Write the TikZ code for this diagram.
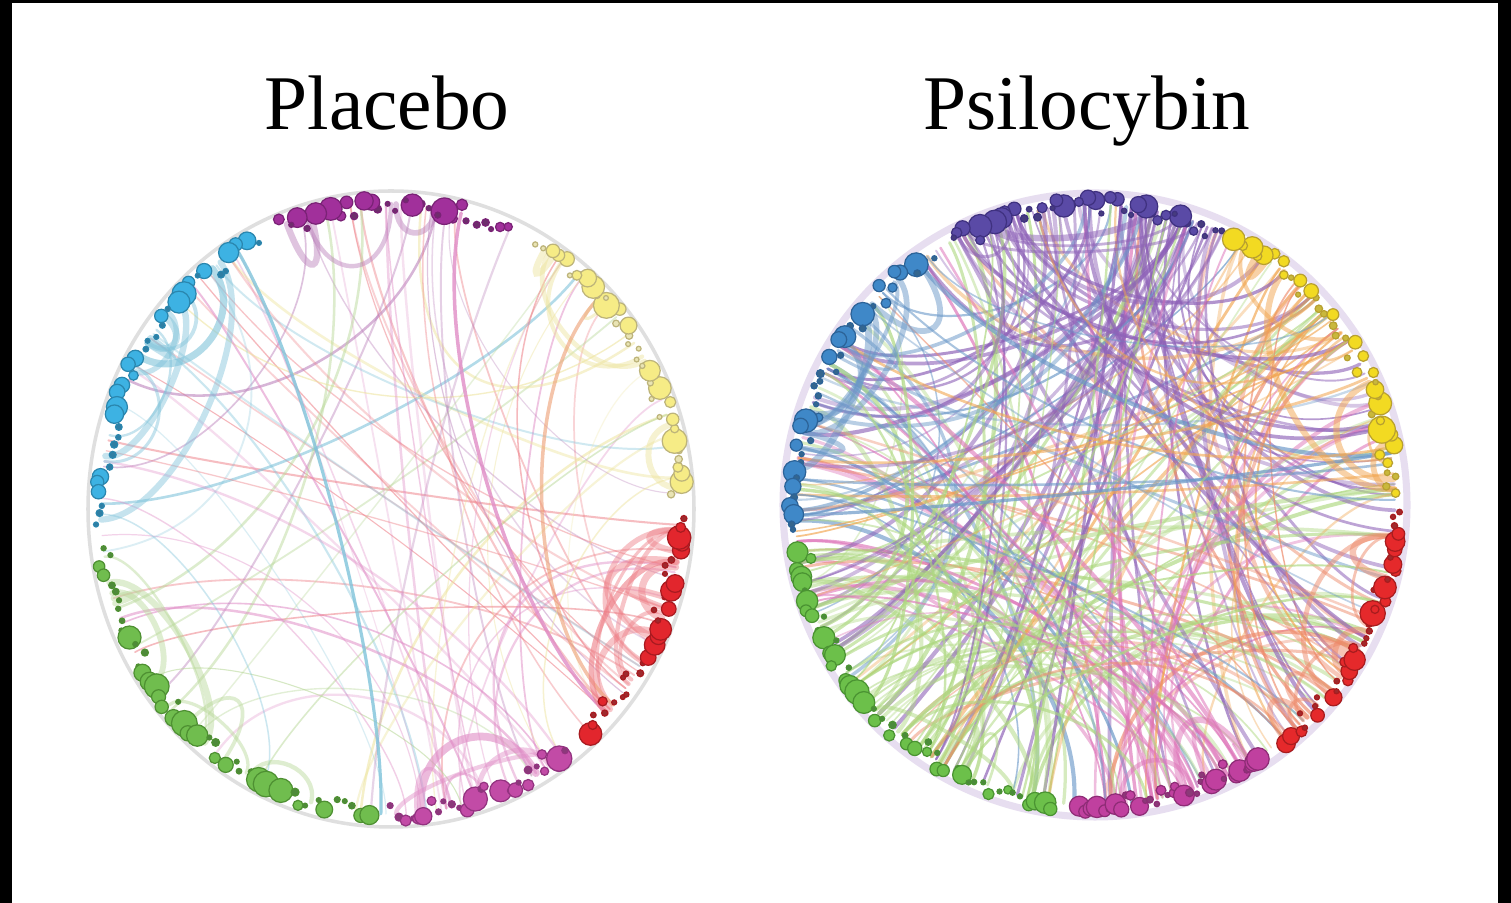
\documentclass[tikz,border=0pt]{standalone}
\usepackage{fontspec}
\setmainfont{Liberation Serif}
\usetikzlibrary{calc}
% placebo: node fill, small dot, outline, link colours
\definecolor{pla0}{HTML}{A1309B}\definecolor{pld0}{HTML}{6E2E6C}\definecolor{plo0}{HTML}{7A2276}\definecolor{plk0}{HTML}{B97DB9}
\definecolor{pla1}{HTML}{3DB2E3}\definecolor{pld1}{HTML}{2F7EA3}\definecolor{plo1}{HTML}{2A86AE}\definecolor{plk1}{HTML}{7FC3DA}
\definecolor{pla2}{HTML}{70BD4E}\definecolor{pld2}{HTML}{4F8A3A}\definecolor{plo2}{HTML}{4E9032}\definecolor{plk2}{HTML}{B8D898}
\definecolor{pla3}{HTML}{C24BA6}\definecolor{pld3}{HTML}{8A3A7A}\definecolor{plo3}{HTML}{933380}\definecolor{plk3}{HTML}{E08CC6}
\definecolor{pla4}{HTML}{E2262D}\definecolor{pld4}{HTML}{9E2A2E}\definecolor{plo4}{HTML}{A81A20}\definecolor{plk4}{HTML}{EE7E86}
\definecolor{pla5}{HTML}{F6EC86}\definecolor{pld5}{HTML}{E9E4B4}\definecolor{plo5}{HTML}{BDB47A}\definecolor{plk5}{HTML}{EDE39A}
% psilocybin
\definecolor{psa0}{HTML}{5A4AA6}\definecolor{psd0}{HTML}{463C7E}\definecolor{pso0}{HTML}{3F3180}\definecolor{psk0}{HTML}{8E62B8}
\definecolor{psa1}{HTML}{3F88C8}\definecolor{psd1}{HTML}{35668E}\definecolor{pso1}{HTML}{2C6398}\definecolor{psk1}{HTML}{6A98C8}
\definecolor{psa2}{HTML}{6CC04A}\definecolor{psd2}{HTML}{4C8A3C}\definecolor{pso2}{HTML}{4A9332}\definecolor{psk2}{HTML}{ADD87F}
\definecolor{psa3}{HTML}{C0409F}\definecolor{psd3}{HTML}{8B3A78}\definecolor{pso3}{HTML}{8E2C76}\definecolor{psk3}{HTML}{DE74B9}
\definecolor{psa4}{HTML}{E5292B}\definecolor{psd4}{HTML}{A02A2C}\definecolor{pso4}{HTML}{A81C1E}\definecolor{psk4}{HTML}{EE8A6A}
\definecolor{psa5}{HTML}{F2DA22}\definecolor{psd5}{HTML}{C9B83C}\definecolor{pso5}{HTML}{B8A030}\definecolor{psk5}{HTML}{F2A54E}
\begin{document}
\begin{tikzpicture}[x=0.01cm, y=0.01cm,
  title/.style={font=\fontsize{22}{26}\selectfont, anchor=base},
  dot/.style={line width=0.35pt},
  link/.style={line cap=round}]
\useasboundingbox (0,0) rectangle (1511,903);
\fill[white] (0,0) rectangle (1511,903);
% black edges of the screenshot
\fill[black] (0,0) rectangle (12,903);
\fill[black] (0,900) rectangle (1511,903);
\fill[black] (1498,0) rectangle (1511,903);
% titles
\node[title] (tpl) at (387,773) {Placebo};
\node[title] (tps) at (1087,773) {Psilocybin};
% centres and link anchors round each ring
\coordinate (plc) at (391,394);
\coordinate (psc) at (1095,398);
\foreach \d in {0,...,359}{
  \coordinate (pl-\d) at ($(plc)+(\d:290 and 305)$);
  \coordinate (ps-\d) at ($(psc)+(\d:300 and 300)$);
}
% rims
\draw[gray!25, line width=1pt] (plc) ellipse[x radius=303, y radius=318];
\draw[psk0!35, line width=2pt, opacity=0.6] (psc) circle[radius=312];
%% ---------- placebo links
\pgfmathsetseed{21}
\foreach \k in {1,...,70}{
  \pgfmathtruncatemacro\s{min(5,int(6*rnd))}
  \pgfmathtruncatemacro\lo{{66,118,187,270,313,3}[\s]}
  \pgfmathtruncatemacro\hi{{112,183,266,307,358,60}[\s]}
  \pgfmathtruncatemacro\a{\lo+rnd*(\hi-\lo)}
  \pgfmathtruncatemacro\b{mod(\a+50+rnd*260,360)}
  \pgfmathsetmacro\f{0.25+0.35*rnd}
  \pgfmathsetmacro\w{0.3+0.45*rnd}
  \pgfmathsetmacro\o{0.25+0.35*rnd}
  \draw[link, plk\s, line width=\w pt, opacity=\o] (pl-\a) .. controls ($(pl-\a)!\f!(plc)$) and ($(pl-\b)!\f!(plc)$) .. (pl-\b);
}
% placebo bundles inside a module
\foreach \k in {1,...,36}{
  \pgfmathtruncatemacro\s{{0,1,1,2,3,3,4,4,5}[min(8,int(9*rnd))]}
  \pgfmathtruncatemacro\lo{{66,118,187,270,313,3}[\s]}
  \pgfmathtruncatemacro\hi{{112,183,266,307,358,60}[\s]}
  \pgfmathtruncatemacro\a{\lo+rnd*(\hi-\lo)}
  \pgfmathtruncatemacro\b{\lo+rnd*(\hi-\lo)}
  \pgfmathsetmacro\f{0.08+0.2*rnd}
  \pgfmathsetmacro\w{0.6+1.4*rnd}
  \draw[link, plk\s, line width=\w pt, opacity=0.45] (pl-\a) .. controls ($(pl-\a)!\f!(plc)$) and ($(pl-\b)!\f!(plc)$) .. (pl-\b);
}
% stronger placebo links
\draw[link, plk3, line width=1pt, opacity=0.8] (pl-76) .. controls ($(pl-76)!0.45!(plc)$) and ($(pl-318)!0.45!(plc)$) .. (pl-318);
\draw[link, psk5!70!plk3, line width=1pt, opacity=0.6] (pl-44) .. controls ($(pl-44)!0.4!(plc)$) and ($(pl-320)!0.4!(plc)$) .. (pl-320);
\draw[link, plk1, line width=0.9pt, opacity=0.8] (pl-122) .. controls ($(pl-122)!0.45!(plc)$) and ($(pl-268)!0.45!(plc)$) .. (pl-268);
\draw[link, plk1, line width=2pt, opacity=0.6] (pl-150) .. controls ($(pl-150)!0.2!(plc)$) and ($(pl-128)!0.2!(plc)$) .. (pl-128);
\draw[link, plk3, line width=2.2pt, opacity=0.6] (pl-300) .. controls ($(pl-300)!0.25!(plc)$) and ($(pl-276)!0.25!(plc)$) .. (pl-276);
\draw[link, plk4, line width=1.5pt, opacity=0.6] (pl-318) .. controls ($(pl-318)!0.2!(plc)$) and ($(pl-350)!0.2!(plc)$) .. (pl-350);
% placebo nodes
\pgfmathsetseed{5}
\foreach \s/\lo/\hi/\n in {0/66/112/28,1/118/183/34,2/187/266/44,3/270/307/28,4/313/358/30,5/3/60/34}{
  \foreach \i in {0,...,\n}{
    \pgfmathsetmacro\sz{2.4+11*rnd^2.5}
    \pgfmathsetmacro\ang{\lo+(\hi-\lo)*(\i+0.6*rnd-0.3)/\n}
    \pgfmathsetmacro\rr{\sz<5 ? 8+\sz+16*rnd : \sz+2+4*rnd}
    \pgfmathsetmacro\px{(306-\rr)*cos(\ang)}
    \pgfmathsetmacro\py{(321-\rr)*sin(\ang)}
    \pgfmathtruncatemacro\big{\sz<4 ? 0 : 1}
    \ifnum\big=1
      \filldraw[dot, fill=pla\s, draw=plo\s] ($(plc)+(\px,\py)$) circle[radius=\sz];
    \else
      \filldraw[dot, fill=pld\s, draw=plo\s] ($(plc)+(\px,\py)$) circle[radius=\sz];
    \fi
  }
}
%% ---------- psilocybin links
\pgfmathsetseed{77}
\foreach \k in {1,...,240}{
  \pgfmathtruncatemacro\s{{0,0,0,0,0,0,1,1,1,2,2,2,2,2,3,3,4,5,5}[min(18,int(19*rnd))]}
  \pgfmathtruncatemacro\lo{{65,123,189,267,309,2}[\s]}
  \pgfmathtruncatemacro\hi{{118,185,262,303,359,62}[\s]}
  \pgfmathtruncatemacro\a{\lo+rnd*(\hi-\lo)}
  \pgfmathtruncatemacro\b{mod(\a+45+rnd*270,360)}
  \pgfmathsetmacro\f{0.25+0.35*rnd}
  \pgfmathsetmacro\w{0.4+0.8*rnd}
  \pgfmathsetmacro\o{0.35+0.35*rnd}
  \draw[link, psk\s, line width=\w pt, opacity=\o] (ps-\a) .. controls ($(ps-\a)!\f!(psc)$) and ($(ps-\b)!\f!(psc)$) .. (ps-\b);
}
% psilocybin bundles inside a module
\foreach \k in {1,...,40}{
  \pgfmathtruncatemacro\s{min(5,int(6*rnd))}
  \pgfmathtruncatemacro\lo{{65,123,189,267,309,2}[\s]}
  \pgfmathtruncatemacro\hi{{118,185,262,303,359,62}[\s]}
  \pgfmathtruncatemacro\a{\lo+rnd*(\hi-\lo)}
  \pgfmathtruncatemacro\b{\lo+rnd*(\hi-\lo)}
  \pgfmathsetmacro\f{0.08+0.2*rnd}
  \pgfmathsetmacro\w{0.6+1.4*rnd}
  \draw[link, psk\s, line width=\w pt, opacity=0.5] (ps-\a) .. controls ($(ps-\a)!\f!(psc)$) and ($(ps-\b)!\f!(psc)$) .. (ps-\b);
}
% psilocybin nodes
\pgfmathsetseed{9}
\foreach \s/\lo/\hi/\n in {0/65/118/38,1/123/185/38,2/189/262/48,3/267/303/32,4/309/359/34,5/2/62/38}{
  \foreach \i in {0,...,\n}{
    \pgfmathsetmacro\sz{2.5+11*rnd^2.5}
    \pgfmathsetmacro\ang{\lo+(\hi-\lo)*(\i+0.6*rnd-0.3)/\n}
    \pgfmathsetmacro\rr{\sz<5 ? 8+\sz+16*rnd : \sz+2+5*rnd}
    \pgfmathsetmacro\px{(317-\rr)*cos(\ang)}
    \pgfmathsetmacro\py{(317-\rr)*sin(\ang)}
    \pgfmathtruncatemacro\big{\sz<4 ? 0 : 1}
    \ifnum\big=1
      \filldraw[dot, fill=psa\s, draw=pso\s] ($(psc)+(\px,\py)$) circle[radius=\sz];
    \else
      \filldraw[dot, fill=psd\s, draw=pso\s] ($(psc)+(\px,\py)$) circle[radius=\sz];
    \fi
  }
}
\end{tikzpicture}
\end{document}
